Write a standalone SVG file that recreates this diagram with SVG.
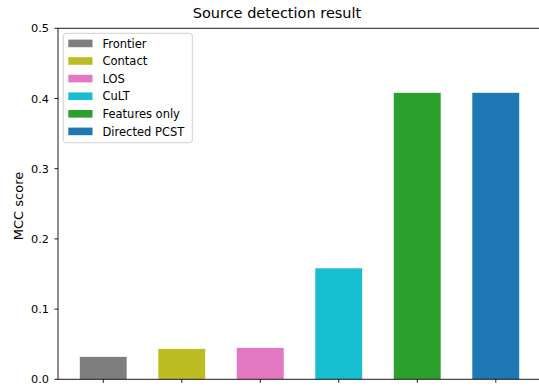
<svg xmlns="http://www.w3.org/2000/svg" width="539" height="386" viewBox="0 0 539 386">
<style>
text{font-family:"DejaVu Sans","Liberation Sans",sans-serif;fill:#000}
.tick{font-size:11.3px;text-anchor:end}
.leg{font-size:11.5px}
.spine{stroke:#000;stroke-width:0.9;fill:none}
.tk{stroke:#000;stroke-width:0.9}
.bar{stroke:#fff;stroke-width:0.6}
</style>
<rect width="539" height="386" fill="#fff"/>
<text x="277" y="17.5" font-size="14.5" text-anchor="middle">Source detection result</text>
<g id="bars">
<g id="bar-frontier"><rect class="bar" x="79.5" y="356.7" width="47.5" height="22.6" fill="#7f7f7f"/></g>
<g id="bar-contact"><rect class="bar" x="158" y="348.7" width="47.5" height="30.6" fill="#bcbd22"/></g>
<g id="bar-los"><rect class="bar" x="236.5" y="347.7" width="47.5" height="31.6" fill="#e377c2"/></g>
<g id="bar-cult"><rect class="bar" x="315" y="268" width="47.5" height="111.3" fill="#17becf"/></g>
<g id="bar-features"><rect class="bar" x="393.5" y="92.5" width="47.5" height="286.8" fill="#2ca02c"/></g>
<g id="bar-pcst"><rect class="bar" x="472" y="92.5" width="47.5" height="286.8" fill="#1f77b4"/></g>
</g>
<g id="axes">
<path class="spine" d="M58,28.3 H539 M58,28.3 V379.3 M58,379.3 H539"/>
<path class="tk" d="M54.5,28.3H58 M54.5,98.5H58 M54.5,168.7H58 M54.5,238.9H58 M54.5,309.1H58 M54.5,379.3H58"/>
<path class="tk" d="M103.3,379.3V382.8 M181.8,379.3V382.8 M260.3,379.3V382.8 M338.8,379.3V382.8 M417.3,379.3V382.8 M495.8,379.3V382.8"/>
<text class="tick" x="49" y="32.4">0.5</text>
<text class="tick" x="49" y="102.6">0.4</text>
<text class="tick" x="49" y="172.8">0.3</text>
<text class="tick" x="49" y="243">0.2</text>
<text class="tick" x="49" y="313.2">0.1</text>
<text class="tick" x="49" y="383.4">0.0</text>
<text transform="translate(23,206) rotate(-90)" font-size="13" text-anchor="middle">MCC score</text>
</g>
<g id="legend">
<rect x="63.3" y="33.3" width="129" height="109.4" rx="2.5" fill="#fff" fill-opacity="0.8" stroke="#cccccc" stroke-width="0.9"/>
<rect x="68.3" y="39.6" width="24.2" height="7.6" fill="#7f7f7f"/>
<text class="leg" x="102.5" y="47.5">Frontier</text>
<rect x="68.3" y="57.2" width="24.2" height="7.6" fill="#bcbd22"/>
<text class="leg" x="102.5" y="65.1">Contact</text>
<rect x="68.3" y="74.8" width="24.2" height="7.6" fill="#e377c2"/>
<text class="leg" x="102.5" y="82.7">LOS</text>
<rect x="68.3" y="92.4" width="24.2" height="7.6" fill="#17becf"/>
<text class="leg" x="102.5" y="100.3">CuLT</text>
<rect x="68.3" y="110" width="24.2" height="7.6" fill="#2ca02c"/>
<text class="leg" x="102.5" y="117.9">Features only</text>
<rect x="68.3" y="127.6" width="24.2" height="7.6" fill="#1f77b4"/>
<text class="leg" x="102.5" y="135.5">Directed PCST</text>
</g>
</svg>
